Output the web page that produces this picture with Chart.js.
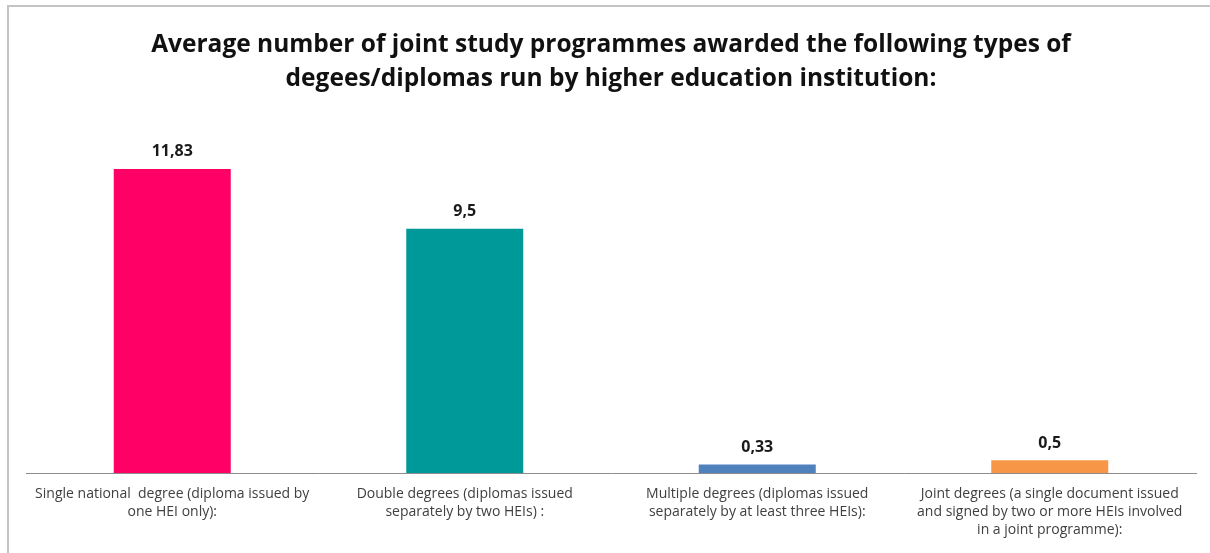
<!DOCTYPE html>
<html>
<head>
<meta charset="utf-8">
<script src="https://cdn.jsdelivr.net/npm/chart.js@4.4.0/dist/chart.umd.min.js"></script>
<style>
  body { margin: 0; background: #fff; }
  #wrap { position: absolute; left: 0; top: 0; width: 1210px; height: 553px; }
  #frame { position: absolute; left: 7px; top: 5px; right: 0; bottom: 0; border-left: 2px solid #c4c4c4; border-top: 2px solid #c4c4c4; pointer-events: none; }
</style>
</head>
<body>
<div id="wrap">
  <canvas id="chart" width="1210" height="553"></canvas>
  <div id="frame"></div>
</div>
<script>
// Categories (multi-line tick labels)
const categories = [
  ['Single national  degree (diploma issued by', 'one HEI only):'],
  ['Double degrees (diplomas issued', 'separately by two HEIs) :'],
  ['Multiple degrees (diplomas issued', 'separately by at least three HEIs):'],
  ['Joint degrees (a single document issued', 'and signed by two or more HEIs involved', 'in a joint programme):']
];
const values = [11.83, 9.5, 0.33, 0.5];
const valueLabels = ['11,83', '9,5', '0,33', '0,5'];
const barColors = ['#ff0066', '#009999', '#4f81bd', '#f79646'];

const titleLines = [
  'Average number of joint study programmes awarded the following types of',
  'degees/diplomas run by higher education institution:'
];

// draws the value over each bar
const valueLabelPlugin = {
  id: 'valueLabels',
  afterDatasetsDraw(chart) {
    const ctx = chart.ctx;
    const meta = chart.getDatasetMeta(0);
    ctx.save();
    ctx.font = 'bold 16px "Open Sans"';
    ctx.fillStyle = '#1a1a1a';
    ctx.textAlign = 'center';
    ctx.textBaseline = 'bottom';
    meta.data.forEach((bar, i) => {
      ctx.fillText(valueLabels[i], bar.x, bar.y - 9);
    });
    ctx.restore();
  }
};

const ctx = document.getElementById('chart').getContext('2d');
const chart = new Chart(ctx, {
  type: 'bar',
  data: {
    labels: categories,
    datasets: [{
      data: values,
      backgroundColor: barColors,
      borderWidth: 0,
      barPercentage: 0.4,
      categoryPercentage: 1
    }]
  },
  plugins: [valueLabelPlugin],
  options: {
    responsive: false,
    animation: false,
    layout: { padding: { left: 26, right: 14, top: 0, bottom: 0 } },
    plugins: {
      legend: { display: false },
      tooltip: { enabled: false },
      title: {
        display: true,
        text: titleLines,
        color: '#111',
        font: { family: '"Open Sans"', size: 24.5, weight: 'bold', lineHeight: 1.39 },
        padding: { top: 28, bottom: 17 }
      }
    },
    scales: {
      x: {
        grid: { display: false, drawTicks: false },
        border: { display: true, color: '#8c8c8c', width: 1 },
        ticks: {
          color: '#404040',
          font: { family: '"Open Sans"', size: 14, lineHeight: 1.29 },
          maxRotation: 0,
          autoSkip: false,
          padding: 12
        },
        afterFit(scale) { scale.height = 80; }
      },
      y: {
        display: false,
        min: 0,
        max: 14
      }
    }
  }
});
</script>
</body>
</html>
